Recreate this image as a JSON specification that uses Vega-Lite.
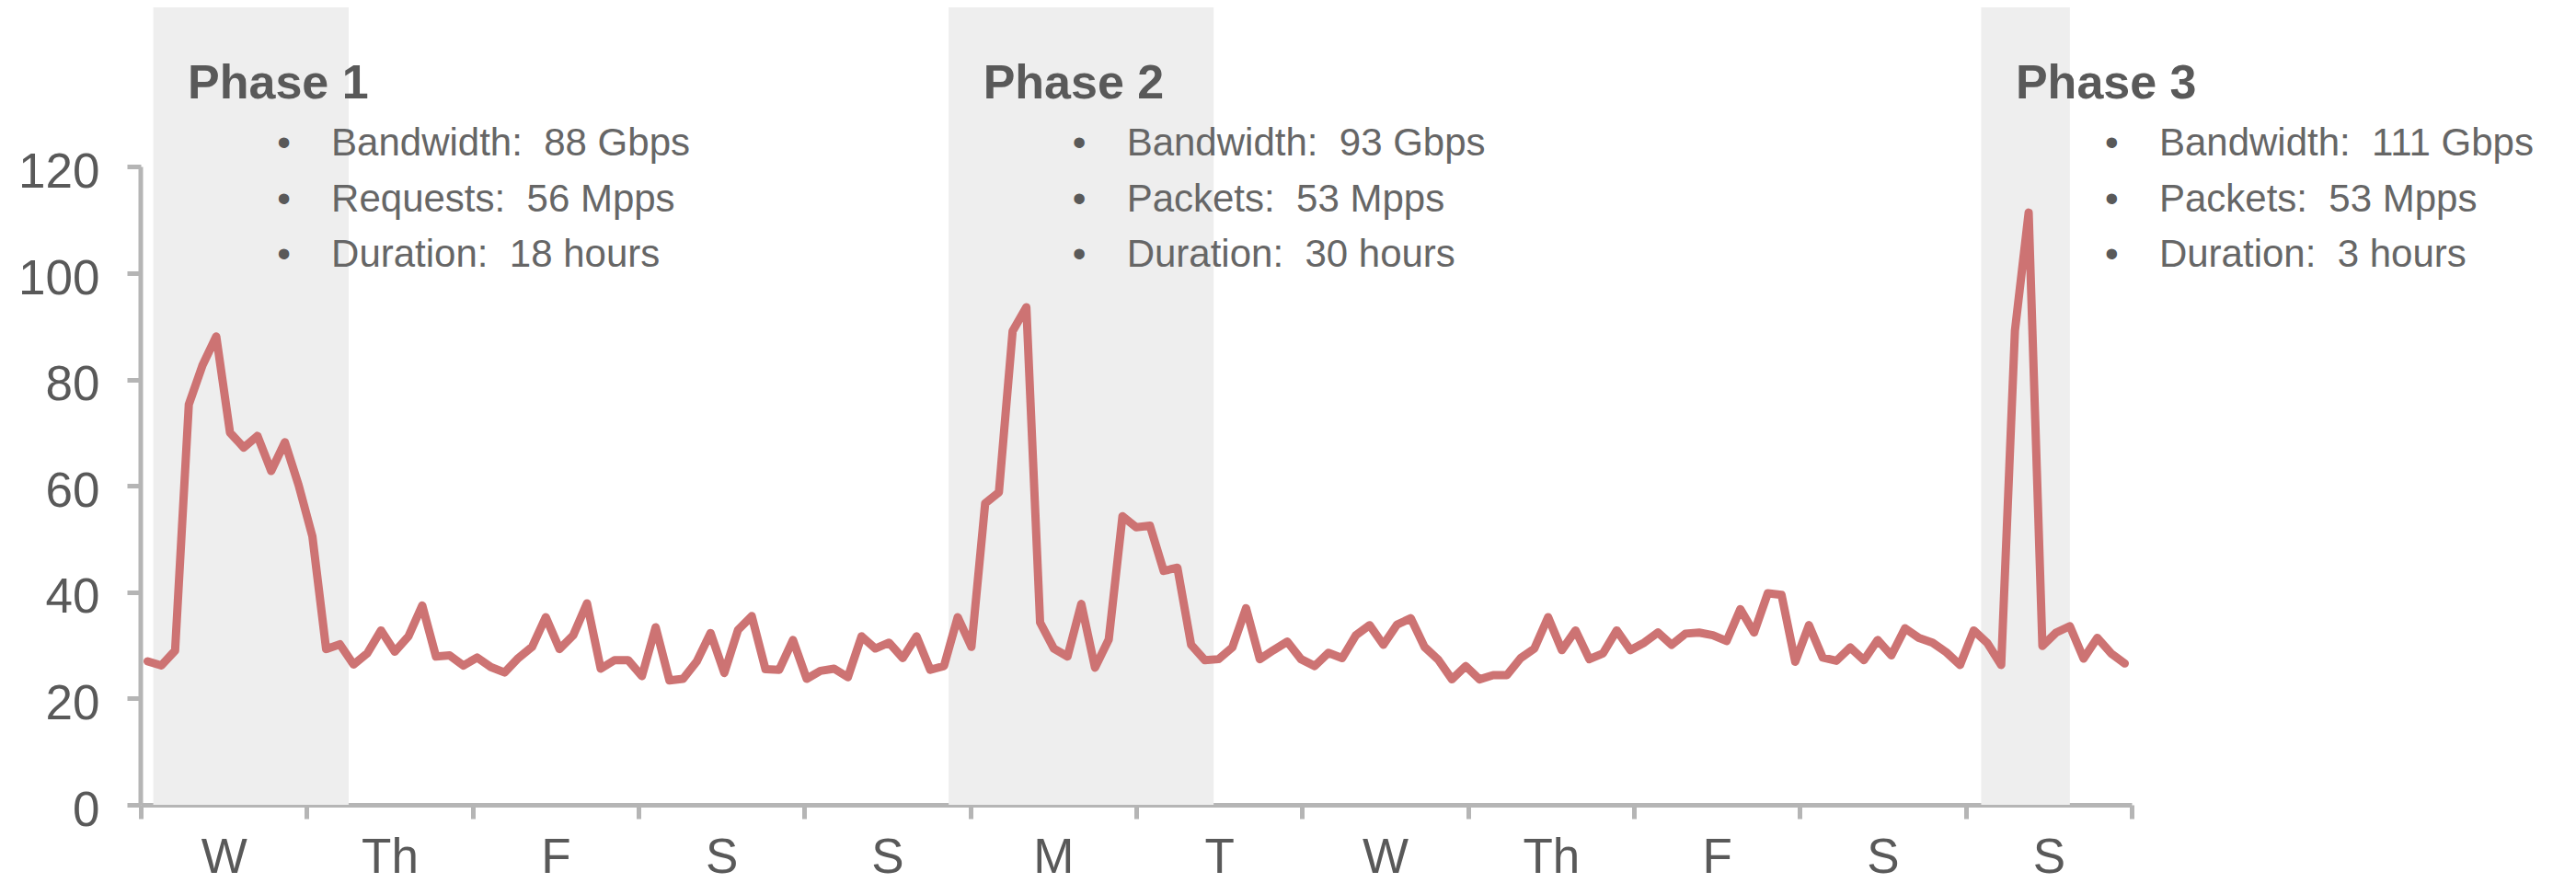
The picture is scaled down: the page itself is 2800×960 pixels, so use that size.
{
  "$schema": "https://vega.github.io/schema/vega-lite/v6.json",
  "width": 2164,
  "height": 867,
  "autosize": {"type": "none"},
  "padding": {"left": 153, "top": 8, "right": 483, "bottom": 85},
  "background": "white",
  "config": {"view": {"stroke": null}, "font": "Liberation Sans", "axis": {"grid": false}},
  "datasets": {
    "traffic": [
      {"t":0,"v":27.0},{"t":1,"v":26.2},{"t":2,"v":29.0},{"t":3,"v":75.3},{"t":4,"v":82.7},{"t":5,"v":88.1},{"t":6,"v":70.0},{"t":7,"v":67.2},{"t":8,"v":69.4},{"t":9,"v":62.8},
      {"t":10,"v":68.2},{"t":11,"v":60.1},{"t":12,"v":50.5},{"t":13,"v":29.3},{"t":14,"v":30.2},{"t":15,"v":26.4},{"t":16,"v":28.5},{"t":17,"v":32.8},{"t":18,"v":28.8},{"t":19,"v":31.7},
      {"t":20,"v":37.5},{"t":21,"v":27.9},{"t":22,"v":28.1},{"t":23,"v":26.2},{"t":24,"v":27.7},{"t":25,"v":25.9},{"t":26,"v":24.9},{"t":27,"v":27.6},{"t":28,"v":29.7},{"t":29,"v":35.3},
      {"t":30,"v":29.3},{"t":31,"v":31.9},{"t":32,"v":37.9},{"t":33,"v":25.6},{"t":34,"v":27.2},{"t":35,"v":27.2},{"t":36,"v":24.2},{"t":37,"v":33.4},{"t":38,"v":23.4},{"t":39,"v":23.7},
      {"t":40,"v":27.0},{"t":41,"v":32.3},{"t":42,"v":24.8},{"t":43,"v":32.9},{"t":44,"v":35.5},{"t":45,"v":25.5},{"t":46,"v":25.4},{"t":47,"v":31.0},{"t":48,"v":23.7},{"t":49,"v":25.2},
      {"t":50,"v":25.6},{"t":51,"v":24.0},{"t":52,"v":31.7},{"t":53,"v":29.4},{"t":54,"v":30.5},{"t":55,"v":27.6},{"t":56,"v":31.7},{"t":57,"v":25.4},{"t":58,"v":26.1},{"t":59,"v":35.3},
      {"t":60,"v":29.7},{"t":61,"v":56.7},{"t":62,"v":58.8},{"t":63,"v":89.1},{"t":64,"v":93.6},{"t":65,"v":34.3},{"t":66,"v":29.4},{"t":67,"v":27.9},{"t":68,"v":37.8},{"t":69,"v":25.8},
      {"t":70,"v":31.1},{"t":71,"v":54.3},{"t":72,"v":52.2},{"t":73,"v":52.5},{"t":74,"v":44.0},{"t":75,"v":44.6},{"t":76,"v":30.1},{"t":77,"v":27.2},{"t":78,"v":27.4},{"t":79,"v":29.6},
      {"t":80,"v":37.0},{"t":81,"v":27.4},{"t":82,"v":29.1},{"t":83,"v":30.7},{"t":84,"v":27.4},{"t":85,"v":26.1},{"t":86,"v":28.6},{"t":87,"v":27.6},{"t":88,"v":31.9},{"t":89,"v":33.8},
      {"t":90,"v":30.1},{"t":91,"v":33.9},{"t":92,"v":35.1},{"t":93,"v":29.7},{"t":94,"v":27.3},{"t":95,"v":23.6},{"t":96,"v":26.1},{"t":97,"v":23.6},{"t":98,"v":24.4},{"t":99,"v":24.4},
      {"t":100,"v":27.6},{"t":101,"v":29.4},{"t":102,"v":35.3},{"t":103,"v":29.1},{"t":104,"v":32.8},{"t":105,"v":27.4},{"t":106,"v":28.5},{"t":107,"v":32.8},{"t":108,"v":29.1},{"t":109,"v":30.5},
      {"t":110,"v":32.4},{"t":111,"v":30.1},{"t":112,"v":32.2},{"t":113,"v":32.4},{"t":114,"v":31.9},{"t":115,"v":30.8},{"t":116,"v":36.8},{"t":117,"v":32.4},{"t":118,"v":39.8},{"t":119,"v":39.5},
      {"t":120,"v":26.9},{"t":121,"v":33.8},{"t":122,"v":27.7},{"t":123,"v":27.1},{"t":124,"v":29.6},{"t":125,"v":27.2},{"t":126,"v":31.0},{"t":127,"v":28.1},{"t":128,"v":33.2},{"t":129,"v":31.4},
      {"t":130,"v":30.5},{"t":131,"v":28.7},{"t":132,"v":26.3},{"t":133,"v":32.8},{"t":134,"v":30.4},{"t":135,"v":26.3},{"t":136,"v":89.2},{"t":137,"v":111.4},{"t":138,"v":29.9},{"t":139,"v":32.4},
      {"t":140,"v":33.6},{"t":141,"v":27.5},{"t":142,"v":31.4},{"t":143,"v":28.5},{"t":144,"v":26.6}
    ],
    "phases": [
      {"phase": "Phase 1", "start": 0.41, "end": 14.64, "details": "Bandwidth:\u00a0 88 Gbps|Requests:\u00a0 56 Mpps|Duration:\u00a0 18 hours"},
      {"phase": "Phase 2", "start": 58.34, "end": 77.64, "details": "Bandwidth:\u00a0 93 Gbps|Packets:\u00a0 53 Mpps|Duration:\u00a0 30 hours"},
      {"phase": "Phase 3", "start": 133.54, "end": 140.0, "details": "Bandwidth:\u00a0 111 Gbps|Packets:\u00a0 53 Mpps|Duration:\u00a0 3 hours"}
    ],
    "origin": [{"x": -0.5, "y0": 0, "y1": 120}]
  },
  "layer": [
    {
      "data": {"name": "phases"},
      "mark": {"type": "rect", "color": "#eeeeee"},
      "encoding": {
        "x": {"field": "start", "type": "quantitative", "scale": {"domain": [-0.5, 144.5], "nice": false, "zero": false}, "axis": {"title": null}},
        "x2": {"field": "end"},
        "y": {"datum": 150, "type": "quantitative", "scale": {"domain": [0, 150], "nice": false}, "axis": {"title": null}},
        "y2": {"datum": 0}
      }
    },
    {
      "data": {"name": "traffic"},
      "mark": {"type": "line", "color": "#cd7373", "strokeWidth": 9, "strokeJoin": "round", "strokeCap": "round"},
      "encoding": {
        "x": {
          "field": "t", "type": "quantitative",
          "scale": {"domain": [-0.5, 144.5], "nice": false, "zero": false},
          "axis": {
            "title": null,
            "values": [-0.5, 11.583333, 23.666667, 35.75, 47.833333, 59.916667, 72, 84.083333, 96.166667, 108.25, 120.333333, 132.416667, 144.5],
            "labelExpr": "['W','Th','F','S','S','M','T','W','Th','F','S','S',''][round((datum.value + 0.5) * 12 / 145)]",
            "labelOffset": 90.17,
            "labelAlign": "center",
            "labelBaseline": "alphabetic",
            "labelPadding": 58,
            "labelFontSize": 53,
            "labelColor": "#595959",
            "labelFlush": false,
            "labelOverlap": false,
            "labelBound": false,
            "domainColor": "#b5b5b5",
            "domainWidth": 5,
            "tickColor": "#b5b5b5",
            "tickWidth": 5,
            "tickSize": 15,
            "grid": false
          }
        },
        "y": {
          "field": "v", "type": "quantitative",
          "scale": {"domain": [0, 150], "nice": false},
          "axis": {
            "title": null,
            "values": [0, 20, 40, 60, 80, 100, 120],
            "domain": false,
            "labelBaseline": "alphabetic",
            "labelOffset": 22,
            "labelPadding": 30,
            "labelFontSize": 53,
            "labelColor": "#595959",
            "labelFlush": false,
            "labelOverlap": false,
            "labelBound": false,
            "tickColor": "#b5b5b5",
            "tickWidth": 5,
            "tickSize": 15,
            "grid": false
          }
        }
      }
    },
    {
      "data": {"name": "origin"},
      "mark": {"type": "rule", "color": "#b5b5b5", "strokeWidth": 5},
      "encoding": {
        "x": {"field": "x", "type": "quantitative", "axis": {"title": null}},
        "y": {"field": "y0", "type": "quantitative", "axis": {"title": null}},
        "y2": {"field": "y1"}
      }
    },
    {
      "data": {"name": "phases"},
      "mark": {"type": "text", "align": "left", "baseline": "alphabetic", "dx": 37.5, "fontSize": 52, "fontWeight": "bold", "color": "#595959"},
      "encoding": {
        "x": {"field": "start", "type": "quantitative", "axis": {"title": null}},
        "y": {"datum": 132.9, "type": "quantitative"},
        "text": {"field": "phase", "type": "nominal"}
      }
    },
    {
      "data": {"name": "phases"},
      "mark": {"type": "text", "align": "center", "baseline": "alphabetic", "dx": 142, "fontSize": 42, "color": "#595959", "lineHeight": 60.5, "text": ["•", "•", "•"]},
      "encoding": {
        "x": {"field": "start", "type": "quantitative", "axis": {"title": null}},
        "y": {"datum": 122.1, "type": "quantitative"}
      }
    },
    {
      "data": {"name": "phases"},
      "mark": {"type": "text", "align": "left", "baseline": "alphabetic", "dx": 193.5, "fontSize": 42, "color": "#666666", "lineHeight": 60.5, "lineBreak": "|"},
      "encoding": {
        "x": {"field": "start", "type": "quantitative", "axis": {"title": null}},
        "y": {"datum": 122.1, "type": "quantitative"},
        "text": {"field": "details", "type": "nominal"}
      }
    }
  ]
}
